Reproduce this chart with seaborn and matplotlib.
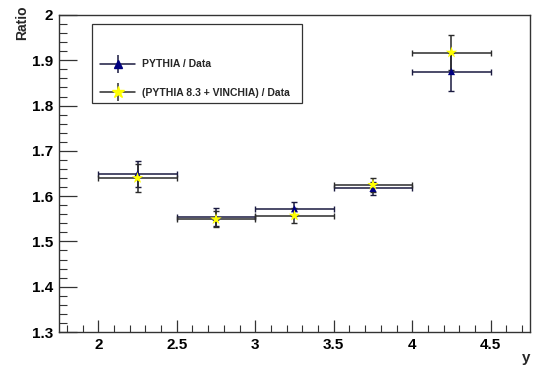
import numpy as np
import pandas as pd
import matplotlib
matplotlib.use("Agg")
import matplotlib.pyplot as plt
from matplotlib.lines import Line2D
from matplotlib.patches import Rectangle
from matplotlib.legend_handler import HandlerTuple
from matplotlib.ticker import MultipleLocator, FormatStrFormatter
import seaborn as sns

# Rapidity bins (centres and half-widths)
y_centers = [2.25, 2.75, 3.25, 3.75, 4.25]
y_halfwidth = [0.25, 0.25, 0.25, 0.25, 0.25]

# Ratio to data and statistical uncertainties
pythia_ratio = [1.649, 1.553, 1.572, 1.617, 1.875]
pythia_err = [0.029, 0.020, 0.016, 0.015, 0.042]
vinchia_ratio = [1.640, 1.549, 1.557, 1.625, 1.917]
vinchia_err = [0.030, 0.018, 0.016, 0.016, 0.038]

labels = ["PYTHIA / Data", "(PYTHIA 8.3 + VINCHIA) / Data"]

df = pd.concat([
    pd.DataFrame({"y": y_centers, "ratio": pythia_ratio, "err": pythia_err,
                  "xerr": y_halfwidth, "model": labels[0]}),
    pd.DataFrame({"y": y_centers, "ratio": vinchia_ratio, "err": vinchia_err,
                  "xerr": y_halfwidth, "model": labels[1]}),
], ignore_index=True)

sns.set_style("white")
plt.rcParams["font.family"] = ["Liberation Sans", "DejaVu Sans"]

fig = plt.figure(figsize=(5.43, 3.70), dpi=100)
ax = fig.add_axes([0.1087, 0.1027, 0.976 - 0.1087, 0.9595 - 0.1027])

styles = {
    labels[0]: dict(marker="^", color="#000080", size=26, bar="#1a1a40"),
    labels[1]: dict(marker="*", color="#ffff00", size=75, bar="#2b2b2b"),
}

handles = []
for name in labels:
    sub = df[df["model"] == name]
    st = styles[name]
    ax.errorbar(sub["y"], sub["ratio"], xerr=sub["xerr"], yerr=sub["err"],
                fmt="none", ecolor=st["bar"], elinewidth=1.1,
                capsize=2, capthick=1.0, zorder=2)
    # legend symbol: horizontal bar, vertical bar and the marker on top
    handles.append((
        Line2D([], [], color=st["bar"], lw=1.1),
        Line2D([], [], ls="none", marker="|", markersize=13,
               markeredgewidth=1.1, color=st["bar"]),
        Line2D([], [], ls="none", marker=st["marker"],
               markerfacecolor=st["color"], markeredgecolor=st["color"],
               markersize=np.sqrt(st["size"]) + 0.5),
    ))

sns.scatterplot(data=df, x="y", y="ratio", hue="model", style="model",
                palette={k: v["color"] for k, v in styles.items()},
                markers={k: v["marker"] for k, v in styles.items()},
                size="model", sizes={k: v["size"] for k, v in styles.items()},
                edgecolor=None, linewidth=0, legend=False, zorder=3, ax=ax)

ax.set_xlim(1.75, 4.75)
ax.set_ylim(1.3, 2.0)
ax.xaxis.set_major_locator(MultipleLocator(0.5))
ax.xaxis.set_minor_locator(MultipleLocator(0.1))
ax.yaxis.set_major_locator(MultipleLocator(0.1))
ax.yaxis.set_minor_locator(MultipleLocator(0.02))
ax.xaxis.set_major_formatter(FormatStrFormatter("%g"))
ax.yaxis.set_major_formatter(FormatStrFormatter("%g"))

ax.tick_params(axis="x", which="major", direction="in", length=9, width=0.9,
               colors="#333333", labelcolor="black", labelsize=11, pad=4,
               bottom=True, top=False)
ax.tick_params(axis="x", which="minor", direction="in", length=5, width=0.8,
               colors="#333333", bottom=True, top=False)
ax.tick_params(axis="y", which="major", direction="in", length=13, width=0.9,
               colors="#333333", labelcolor="black", labelsize=11, pad=4,
               left=True, right=False)
ax.tick_params(axis="y", which="minor", direction="in", length=6, width=0.8,
               colors="#333333", left=True, right=False)
for lab in ax.get_xticklabels() + ax.get_yticklabels():
    lab.set_fontweight("bold")

for sp in ax.spines.values():
    sp.set_color("#333333")
    sp.set_linewidth(1.0)

ax.set_xlabel("")
ax.set_ylabel("")
fig.text(530 / 543, 1 - 358 / 370, "y", ha="right", va="center",
         fontsize=11, fontweight="bold")
fig.text(22 / 543, 1 - 5 / 370, "Ratio", ha="center", va="top", rotation=90,
         fontsize=10, fontweight="bold")

# Legend box
ax.add_patch(Rectangle((0.07, 0.722), 0.446, 0.25, transform=ax.transAxes,
                       facecolor="white", edgecolor="#333333", linewidth=0.9,
                       zorder=4))
leg = ax.legend(handles, labels, loc="upper left",
                bbox_to_anchor=(0.078, 0.873), frameon=False,
                prop={"weight": "bold", "size": 7.5},
                handler_map={tuple: HandlerTuple(ndivide=1)},
                handlelength=3.4, handletextpad=0.6, labelspacing=1.75,
                borderaxespad=0.0)
leg.set_zorder(5)

fig.savefig("out.png", dpi=100, facecolor="white")
